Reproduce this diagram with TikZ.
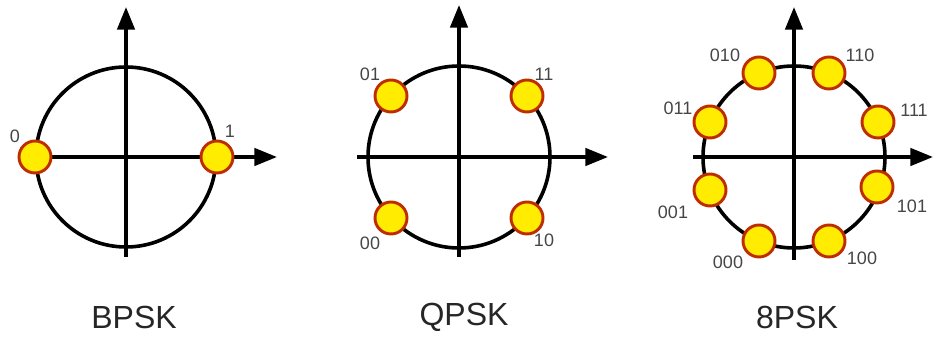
\documentclass[tikz,border=0pt]{standalone}
\usepackage{fontspec}
\setmainfont{Liberation Sans}
\usepackage{tikz}
\usetikzlibrary{arrows.meta, positioning}

\definecolor{dotfill}{RGB}{255,236,0}
\definecolor{dotrim}{RGB}{190,45,0}
\definecolor{bitgray}{RGB}{70,70,70}

\begin{document}
\begin{tikzpicture}[x=0.75pt, y=0.75pt,
    % --- STYLES ---
    ring/.style={draw, line width=2.7pt},
    axis/.style={line width=2.7pt, -{Triangle[length=17pt, width=13pt]}},
    symbol/.style={circle, draw=dotrim, fill=dotfill, line width=2.2pt, minimum size=24pt, inner sep=0pt},
    bits/.style={font=\fontsize{13.5}{15}\selectfont, text=bitgray, inner sep=0pt},
    title/.style={font=\fontsize{24}{28}\selectfont, text=black!85, inner sep=0pt}
]

    \useasboundingbox (0,0) rectangle (933,339);

    % --- BPSK ---
    \coordinate (bc) at (126,182);
    \coordinate (bw) at (35,182);
    \coordinate (be) at (277,182);
    \coordinate (bs) at (126,82);
    \coordinate (bn) at (126,332);
    \draw[ring] (bc) circle (90);
    \draw[axis] (bw) -- (be);
    \draw[axis] (bs) -- (bn);
    \node[symbol] (b0) at (35,182) {};
    \node[symbol] (b1) at (217,182) {};
    \node[bits] (lb0) at (15,203) {0};
    \node[bits] (lb1) at (230,208) {1};
    \node[title] (tb) at (134,22) {BPSK};

    % --- QPSK ---
    \coordinate (qc) at (459,182);
    \coordinate (qw) at (357,182);
    \coordinate (qe) at (608,182);
    \coordinate (qs) at (459,82);
    \coordinate (qn) at (459,334);
    \draw[ring] (qc) circle (91);
    \draw[axis] (qw) -- (qe);
    \draw[axis] (qs) -- (qn);
    \node[symbol] (q01) at (391,243) {};
    \node[symbol] (q11) at (527,243) {};
    \node[symbol] (q00) at (391,121) {};
    \node[symbol] (q10) at (527,121) {};
    \node[bits] (lq01) at (370,265) {01};
    \node[bits] (lq11) at (544,265) {11};
    \node[bits] (lq00) at (370,96) {00};
    \node[bits] (lq10) at (544,99) {10};
    \node[title] (tq) at (464,22) {QPSK};

    % --- 8PSK ---
    \coordinate (oc) at (794,182);
    \coordinate (ow) at (693,182);
    \coordinate (oe) at (933,182);
    \coordinate (os) at (794,79);
    \coordinate (on) at (794,332);
    \draw[ring] (oc) circle (91);
    \draw[axis] (ow) -- (oe);
    \draw[axis] (os) -- (on);
    \node[symbol] (o111) at (878,217) {};
    \node[symbol] (o110) at (829,266) {};
    \node[symbol] (o010) at (759,266) {};
    \node[symbol] (o011) at (710,217) {};
    \node[symbol] (o001) at (710,149) {};
    \node[symbol] (o000) at (759,98) {};
    \node[symbol] (o100) at (829,98) {};
    \node[symbol] (o101) at (877,152) {};
    \node[bits] (lo010) at (725,284) {010};
    \node[bits] (lo110) at (860,284) {110};
    \node[bits] (lo011) at (678,231) {011};
    \node[bits] (lo111) at (914,229) {111};
    \node[bits] (lo001) at (673,127) {001};
    \node[bits] (lo101) at (912,133) {101};
    \node[bits] (lo000) at (728,77) {000};
    \node[bits] (lo100) at (862,81) {100};
    \node[title] (to) at (797,22) {8PSK};

\end{tikzpicture}
\end{document}
